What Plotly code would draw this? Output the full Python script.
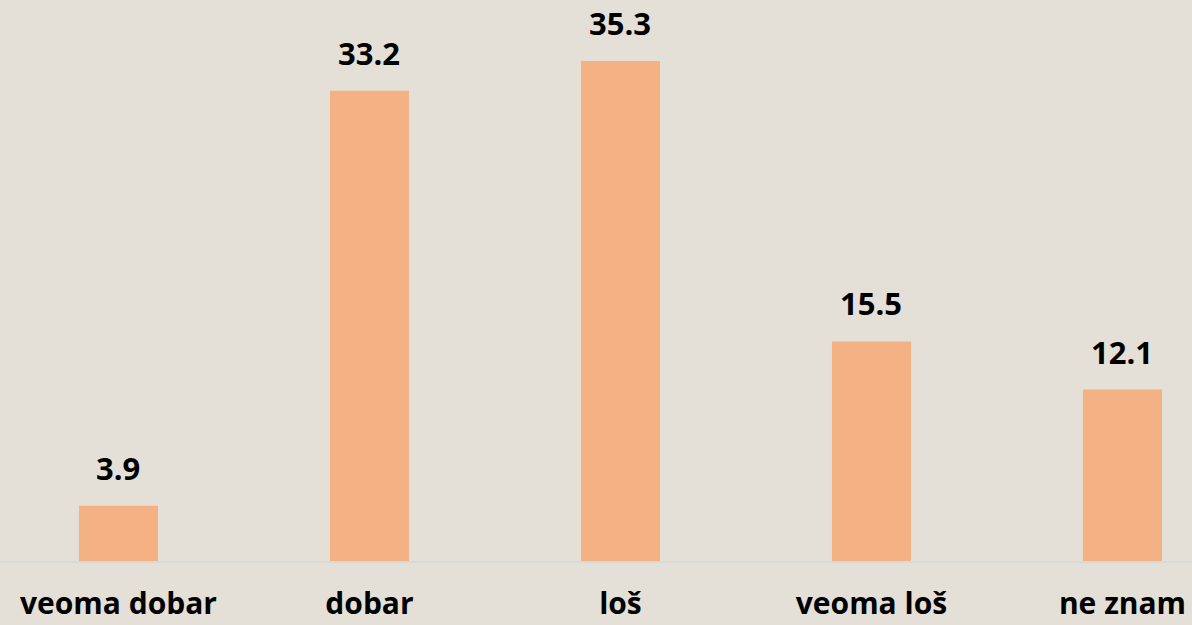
import plotly.graph_objects as go

categories = ["veoma dobar", "dobar", "loš", "veoma loš", "ne znam"]
values = [3.9, 33.2, 35.3, 15.5, 12.1]
value_labels = ["3.9", "33.2", "35.3", "15.5", "12.1"]

BAR = "#f4b183"
BG = "#e4e0d7"
FONT = "Open Sans"

fig = go.Figure()
fig.add_trace(go.Bar(
    x=categories, y=values, marker=dict(color=BAR, line=dict(width=0)),
    width=0.315, showlegend=False, hoverinfo="skip",
))
for c, v, t in zip(categories, values, value_labels):
    fig.add_annotation(x=c, y=v, text=t, showarrow=False, yanchor="bottom",
                       yshift=15, font=dict(family=FONT, size=31, color="#000000", weight="bold"))

fig.update_layout(
    width=1192, height=625,
    margin=dict(l=0, r=0, t=0, b=64, autoexpand=False),
    paper_bgcolor=BG, plot_bgcolor=BG,
    xaxis=dict(range=[-0.472, 4.277], showgrid=False, zeroline=False,
               showline=True, linecolor="#d9d9d9", linewidth=2,
               ticks="", ticklabelstandoff=15, automargin=False,
               tickfont=dict(family=FONT, size=30, color="#000000", weight="bold")),
    yaxis=dict(range=[0, 39.6], showgrid=False, zeroline=False,
               showticklabels=False, showline=False, automargin=False),
)
fig.write_html("out.html", config={"displayModeBar": False},
               post_script="document.body.style.margin='0';document.body.style.padding='0';document.body.style.overflow='hidden';")
